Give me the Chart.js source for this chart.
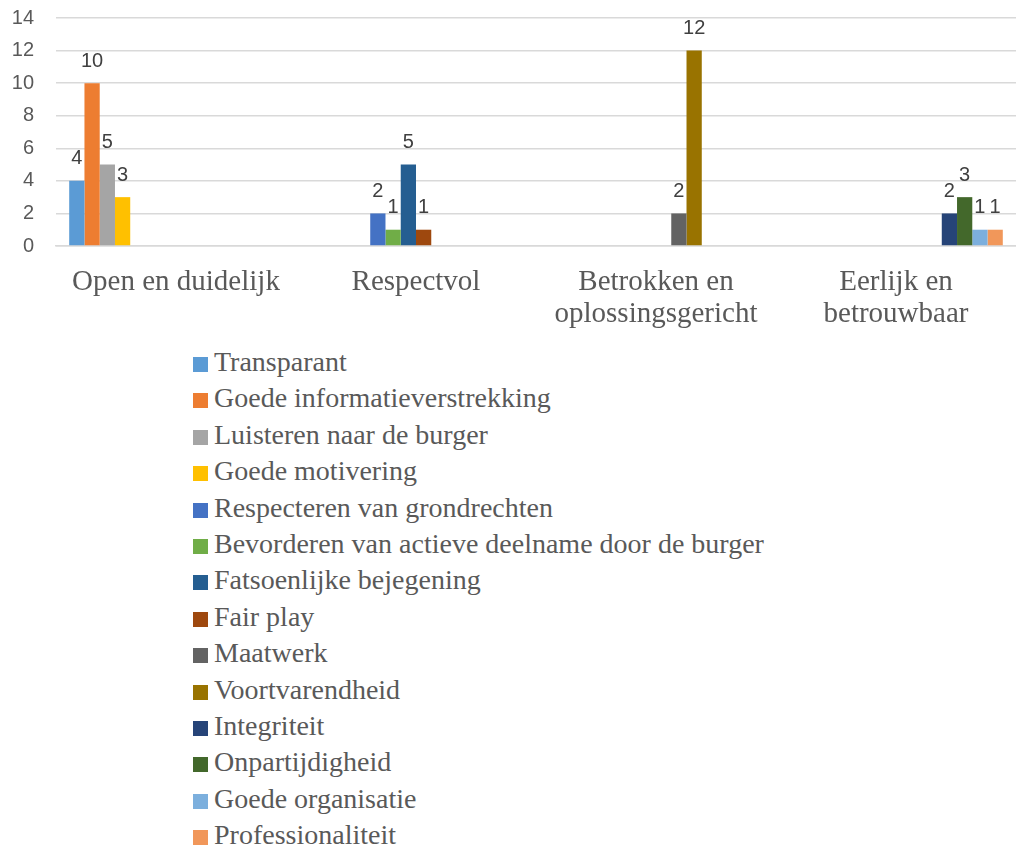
<!DOCTYPE html>
<html>
<head>
    <title>Waarden per kernwaarde</title>
    <script src="https://cdn.jsdelivr.net/npm/chart.js@4/dist/chart.umd.min.js"></script>
    <style>
        body {
            margin: 0;
            background: white;
            width: 1016px;
            height: 850px;
            overflow: hidden;
        }
        .chart-box {
            position: relative;
            width: 1016px;
            height: 340px;
        }
        #legend {
            list-style: none;
            margin: 0;
            padding: 0;
            position: absolute;
            left: 193px;
            top: 344px;
            font-family: 'Liberation Serif', 'DejaVu Serif', serif;
            font-size: 28px;
            color: #595959;
        }
        #legend li {
            height: 36.4px;
            line-height: 36.4px;
            white-space: nowrap;
        }
        #legend span.box {
            display: inline-block;
            width: 15px;
            height: 15px;
            margin-right: 6px;
            vertical-align: -1px;
        }
    </style>
</head>
<body>
    <div class="chart-box">
        <canvas id="chart" width="1016" height="340"></canvas>
    </div>
    <ul id="legend"></ul>

    <script>
        const categories = [
            'Open en duidelijk',
            'Respectvol',
            ['Betrokken en', 'oplossingsgericht'],
            ['Eerlijk en', 'betrouwbaar']
        ];

        const seriesNames = [
            'Transparant',
            'Goede informatieverstrekking',
            'Luisteren naar de burger',
            'Goede motivering',
            'Respecteren van grondrechten',
            'Bevorderen van actieve deelname door de burger',
            'Fatsoenlijke bejegening',
            'Fair play',
            'Maatwerk',
            'Voortvarendheid',
            'Integriteit',
            'Onpartijdigheid',
            'Goede organisatie',
            'Professionaliteit'
        ];

        // one row per series, one value per category (null = no bar)
        const seriesValues = [
            [4, null, null, null],
            [10, null, null, null],
            [5, null, null, null],
            [3, null, null, null],
            [null, 2, null, null],
            [null, 1, null, null],
            [null, 5, null, null],
            [null, 1, null, null],
            [null, null, 2, null],
            [null, null, 12, null],
            [null, null, null, 2],
            [null, null, null, 3],
            [null, null, null, 1],
            [null, null, null, 1]
        ];

        const seriesColors = [
            '#5B9BD5', '#ED7D31', '#A5A5A5', '#FFC000',
            '#4472C4', '#70AD47', '#255E91', '#9E480E',
            '#636363', '#997300', '#264478', '#43682B',
            '#7CAFDD', '#F1975A'
        ];

        const yTicks = [0, 2, 4, 6, 8, 10, 12, 14];

        const serifFont = "'Liberation Serif', 'DejaVu Serif', serif";

        // Draw value labels above each bar
        const valueLabels = {
            id: 'valueLabels',
            afterDatasetsDraw(chart) {
                const ctx = chart.ctx;
                ctx.save();
                ctx.font = '20px "Liberation Sans", Arial, sans-serif';
                ctx.fillStyle = '#404040';
                ctx.textAlign = 'center';
                ctx.textBaseline = 'bottom';
                chart.data.datasets.forEach((ds, i) => {
                    const meta = chart.getDatasetMeta(i);
                    meta.data.forEach((bar, j) => {
                        const v = ds.data[j];
                        if (v === null || v === undefined) return;
                        ctx.fillText(String(v), bar.x, bar.y - 12);
                    });
                });
                ctx.restore();
            }
        };

        const chart = new Chart(document.getElementById('chart'), {
            type: 'bar',
            data: {
                labels: categories,
                datasets: seriesNames.map((name, i) => ({
                    label: name,
                    data: seriesValues[i],
                    backgroundColor: seriesColors[i],
                    borderWidth: 0,
                    categoryPercentage: 0.89,
                    barPercentage: 1.0
                }))
            },
            options: {
                responsive: false,
                animation: false,
                devicePixelRatio: 1,
                layout: {
                    padding: { top: 18, right: 0, bottom: 0, left: 0 }
                },
                plugins: {
                    legend: { display: false },
                    tooltip: { enabled: false }
                },
                scales: {
                    x: {
                        grid: { display: false },
                        border: { color: '#d9d9d9', width: 1.5 },
                        ticks: {
                            color: '#595959',
                            font: { family: serifFont, size: 29, lineHeight: 1.12 },
                            padding: 12,
                            maxRotation: 0,
                            autoSkip: false
                        },
                        afterFit(scale) { scale.height = 94; }
                    },
                    y: {
                        min: 0,
                        max: 14,
                        afterBuildTicks(scale) {
                            scale.ticks = yTicks.map(v => ({ value: v }));
                        },
                        grid: { color: '#d9d9d9', lineWidth: 1.5, drawTicks: false },
                        border: { display: false },
                        ticks: {
                            color: '#595959',
                            font: { family: "'Liberation Sans', Arial, sans-serif", size: 20 },
                            padding: 22
                        },
                        afterFit(scale) {
                            scale.width = 56;
                            // tick padding should not push the plot down
                            scale.paddingTop = 0;
                            scale.paddingBottom = 0;
                        }
                    }
                }
            },
            plugins: [valueLabels]
        });

        // HTML legend, one column, built from the same arrays
        const legendEl = document.getElementById('legend');
        seriesNames.forEach((name, i) => {
            const li = document.createElement('li');
            const box = document.createElement('span');
            box.className = 'box';
            box.style.background = seriesColors[i];
            li.appendChild(box);
            li.appendChild(document.createTextNode(name));
            legendEl.appendChild(li);
        });
    </script>
</body>
</html>
